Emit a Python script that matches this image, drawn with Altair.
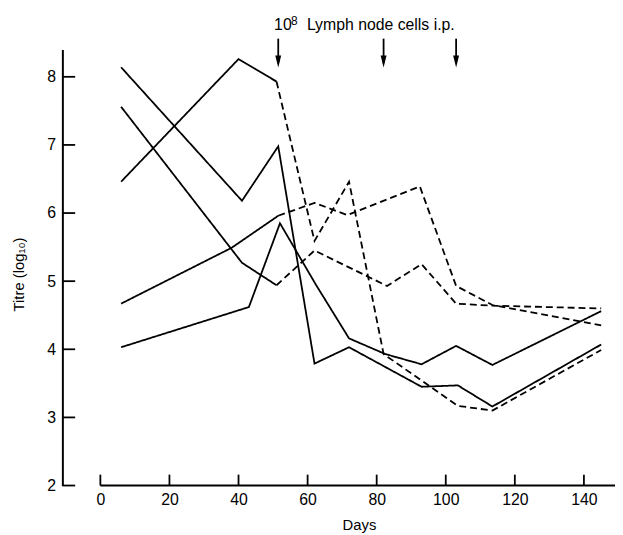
import altair as alt
import pandas as pd

# ---- data (days, titre log10) ----
a_days = [6, 41, 51.5, 62, 72, 93, 103.5, 113.5, 145]
a_vals = [8.14, 6.18, 6.98, 3.79, 4.03, 3.45, 3.47, 3.16, 4.07]
b_days = [6, 41, 51, 62, 83, 93, 103, 113.5, 145]
b_vals = [7.56, 5.27, 4.94, 5.45, 4.93, 5.25, 4.67, 4.64, 4.60]
c_days = [6, 40, 51, 62, 72, 82, 103.5, 113.5, 145]
c_vals = [6.46, 8.26, 7.93, 5.59, 6.46, 3.93, 3.17, 3.10, 3.99]
d_days = [6, 38, 51.5, 62, 71.5, 92.5, 103, 113.5, 145]
d_vals = [4.67, 5.49, 5.96, 6.15, 5.97, 6.39, 4.93, 4.65, 4.35]
e_days = [6, 43, 52, 62.5, 72, 82.5, 93, 103, 113.5, 145]
e_vals = [4.03, 4.62, 5.85, 4.94, 4.16, 3.93, 3.78, 4.05, 3.77, 4.56]
# index of the point from which a series is drawn dashed (None = solid)
dash_from = {"A": None, "B": 2, "C": 2, "D": 2, "E": None}

arrow_days = [51.5, 82, 103]
x_ticks = [0, 20, 40, 60, 80, 100, 120, 140]
y_ticks = [2, 3, 4, 5, 6, 7, 8]

series = {"A": (a_days, a_vals), "B": (b_days, b_vals), "C": (c_days, c_vals),
          "D": (d_days, d_vals), "E": (e_days, e_vals)}

rows = []
for name, (ds, vs) in series.items():
    k = dash_from[name]
    if k is None:
        for i, (d, v) in enumerate(zip(ds, vs)):
            rows.append({"seg": name + "s", "style": "solid", "day": d, "val": v, "ord": i})
    else:
        for i in range(0, k + 1):
            rows.append({"seg": name + "s", "style": "solid", "day": ds[i], "val": vs[i], "ord": i})
        for i in range(k, len(ds)):
            rows.append({"seg": name + "d", "style": "dashed", "day": ds[i], "val": vs[i], "ord": i})
df = pd.DataFrame(rows)

XMIN, XMAX = -11, 149
YMIN, YMAX = 2, 8.4
xs = alt.Scale(domain=[XMIN, XMAX], nice=False, zero=False)
ys = alt.Scale(domain=[YMIN, YMAX], nice=False, zero=False)

FONT = "Liberation Sans"

lines = alt.Chart(df).mark_line(color="black", strokeWidth=1.8, clip=True).encode(
    x=alt.X("day:Q", scale=xs, axis=alt.Axis(
        values=x_ticks, format="d", ticks=False, tickSize=0, domain=False, grid=False,
        labelFont=FONT, labelFontSize=16, labelColor="black", labelPadding=6,
        title="Days", titleFont=FONT, titleFontSize=15, titleFontWeight="normal",
        titleColor="black", titleX=300, titleY=39, titleBaseline="middle",
        titleAlign="center")),
    y=alt.Y("val:Q", scale=ys, axis=alt.Axis(
        values=y_ticks, format="d", ticks=False, tickSize=0, domain=True,
        domainColor="black", domainWidth=2, grid=False, labelFont=FONT,
        labelFontSize=16, labelColor="black", labelPadding=7,
        title="Titre (log₁₀)", titleFont=FONT, titleFontSize=15,
        titleFontWeight="normal", titleColor="black", titleAngle=270,
        titleX=-44, titleY=227, titleBaseline="middle", titleAlign="center")),
    detail="seg:N",
    order="ord:Q",
    strokeDash=alt.StrokeDash("style:N", scale=alt.Scale(
        domain=["solid", "dashed"], range=[[1, 0], [7, 4]]), legend=None),
)

# x axis line (starts at day 0) and inward ticks
xline_df = pd.DataFrame({"day": [0], "day2": [XMAX], "val": [YMIN]})
xline = alt.Chart(xline_df).mark_rule(color="black", strokeWidth=2).encode(
    x="day:Q", x2="day2:Q", y="val:Q")

xt_df = pd.DataFrame({"day": x_ticks, "val": [YMIN] * len(x_ticks),
                      "val2": [YMIN + 0.16] * len(x_ticks)})
xt = alt.Chart(xt_df).mark_rule(color="black", strokeWidth=1.8).encode(
    x="day:Q", y="val:Q", y2="val2:Q")

yt_df = pd.DataFrame({"day": [XMIN] * len(y_ticks), "day2": [XMIN + 3.7] * len(y_ticks),
                      "val": y_ticks})
yt = alt.Chart(yt_df).mark_rule(color="black", strokeWidth=1.8).encode(
    x="day:Q", x2="day2:Q", y="val:Q")

# arrows for injections
ar_df = pd.DataFrame({"day": arrow_days, "val": [8.56] * 3, "val2": [8.2] * 3,
                      "head": [8.225] * 3})
shafts = alt.Chart(ar_df).mark_rule(color="black", strokeWidth=1.8).encode(
    x="day:Q", y="val:Q", y2="val2:Q")
heads = alt.Chart(ar_df).mark_point(
    shape="M-0.5,-1L0.5,-1L0,1Z", size=144, filled=True, color="black",
    opacity=1, strokeWidth=0).encode(x="day:Q", y=alt.Y("head:Q"))

# annotation text
ann_df = pd.DataFrame({"day": [50.3, 59.8], "val": [8.69, 8.69],
                       "txt": ["10", "Lymph node cells i.p."]})
ann = alt.Chart(ann_df).mark_text(
    align="left", baseline="alphabetic", font=FONT, fontSize=16, color="black"
).encode(x="day:Q", y="val:Q", text="txt:N")
sup_df = pd.DataFrame({"day": [55.2], "val": [8.76], "txt": ["8"]})
sup = alt.Chart(sup_df).mark_text(
    align="left", baseline="alphabetic", font=FONT, fontSize=12, color="black"
).encode(x="day:Q", y="val:Q", text="txt:N")

chart = alt.layer(lines, xline, xt, yt, shafts, heads, ann, sup).properties(
    width=559, height=441,
    autosize=alt.AutoSizeParams(type="none"),
    padding={"left": 55, "top": 39, "right": 0, "bottom": 47},
    background="white",
).configure_view(stroke=None)

chart.save("out.html", embed_options={"renderer": "svg", "actions": False})
